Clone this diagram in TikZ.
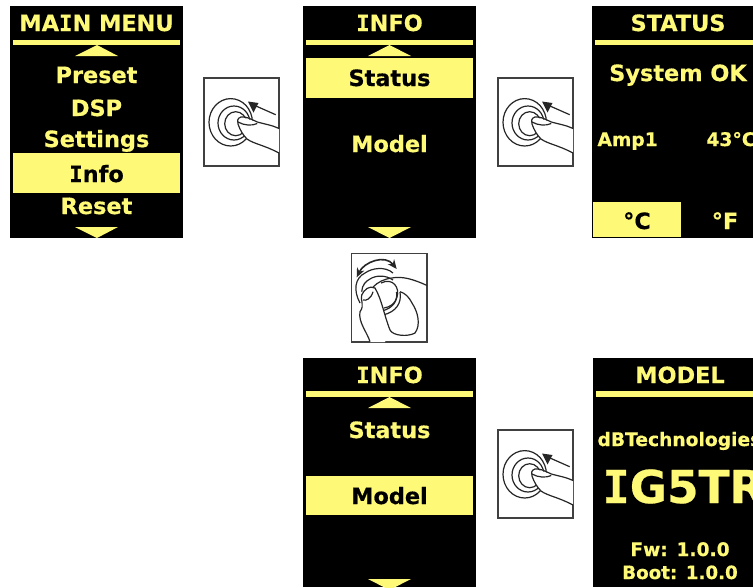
\documentclass[tikz,border=0pt]{standalone}
\usepackage{fontspec}
\usetikzlibrary{arrows.meta}
\setmainfont{DejaVu Sans}[BoldFeatures={FakeBold=0.5}]
\newfontfamily\monoface{DejaVu Sans Mono}[BoldFeatures={FakeBold=0.5}]
\newcommand{\capI}{{\monoface I}}
\definecolor{lcdyellow}{RGB}{255,249,120}
\tikzset{every picture/.style={line width=0.75pt}}
\tikzset{
  screen/.style={fill=black,draw=none},
  bar/.style={fill=lcdyellow,draw=none},
  picked/.style={fill=lcdyellow,draw=none},
  lcdtext/.style={text=lcdyellow,inner sep=0pt,anchor=base,font=\bfseries\fontsize{16.8}{18}\selectfont},
  lcdsmall/.style={lcdtext,font=\bfseries\fontsize{14}{16}\selectfont},
  lcdpicked/.style={lcdtext,text=black},
  iconbox/.style={draw=black!75,fill=white,line width=0.9pt},
  iconline/.style={draw=black!85,line width=0.9pt},
  pressicon/.pic={
    \draw [iconbox] (0,0) -- (75,0) -- (75,88) -- (0,88) -- cycle ;
    \draw [iconline] (26.7,44.3) ellipse (21.7 and 23.7) ;
    \draw [iconline] (30,45) ellipse (16 and 17) ;
    \draw [iconline] (31.7,45.7) ellipse (11 and 12) ;
    %finger
    \fill [white] (75,50.5) -- (53.3,44) -- (37,39) .. controls (33,40) and (33,44) .. (34,46) .. controls (36,52) and (39,57) .. (43,61) .. controls (50,66) and (60,67) .. (75,75) -- cycle ;
    \draw [iconline] (75,50.5) .. controls (68,47) and (60,46) .. (53.3,44) .. controls (47,41) and (41,38) .. (37,39) .. controls (33,40) and (33,44) .. (34,46) .. controls (36,52) and (39,57) .. (43,61) .. controls (50,66) and (60,67) .. (75,75) ;
    \draw [iconline] (34,44) .. controls (40,47.5) and (48,48) .. (53.3,45.5) ;
    %arrow
    \draw [iconline] (71.7,36.7) -- (52,28) ;
    \fill [black!85] (44,23.5) -- (54.5,25) -- (49.5,34.5) -- cycle ;
  },
}

\begin{document}
\begin{tikzpicture}[x=0.75pt,y=0.75pt,yscale=-1,xscale=1]
\clip (0,0) rectangle (753,587);

%Main menu screen
\draw [screen] (10,6) rectangle (183,238);
\draw [bar] (13,40) rectangle (180,45);
\draw [bar] (97,45) -- (118,56) -- (75,56) -- cycle ;
\draw [picked] (13,153) rectangle (180,193);
\draw [bar] (75,227) -- (118,227) -- (97,238) -- cycle ;
\node [lcdtext] (mainTitle) at (96.5,31) {MA\capI N MENU};
\node [lcdtext] (mainPreset) at (96.5,83) {Preset};
\node [lcdtext] (mainDsp) at (96.5,116) {DSP};
\node [lcdtext] (mainSettings) at (96.5,147) {Settings};
\node [lcdpicked] (mainInfo) at (96.5,182) {\capI nfo};
\node [lcdtext] (mainReset) at (96.5,214) {Reset};

%Info screen, Status picked
\draw [screen] (303,6) rectangle (476,238);
\draw [bar] (306,40) rectangle (473,45);
\draw [bar] (389.5,45) -- (411,56) -- (368,56) -- cycle ;
\draw [picked] (306,58) rectangle (473,98);
\draw [bar] (368,227) -- (411,227) -- (389.5,238) -- cycle ;
\node [lcdtext] (infoTitle) at (389.5,31) {\capI NFO};
\node [lcdpicked] (infoStatus) at (389.5,86) {Status};
\node [lcdtext] (infoModel) at (389.5,152) {Model};

%Status screen
\draw [screen] (592,6) rectangle (753,238);
\draw [bar] (595,40) rectangle (753,45);
\draw [picked] (593,202) rectangle (681,237);
\node [lcdtext] (statusTitle) at (678,31) {STATUS};
\node [lcdtext] (statusOk) at (678,81) {System OK};
\node [lcdsmall,anchor=base west] (statusAmp) at (597,146) {Amp1};
\node [lcdsmall,anchor=base west] (statusTemp) at (706,146) {43°C};
\node [lcdpicked] (statusCel) at (637,229) {°C};
\node [lcdtext] (statusFah) at (725,229) {°F};

%Info screen, Model picked
\draw [screen] (303,358) rectangle (476,587);
\draw [bar] (306,391) rectangle (473,397);
\draw [bar] (389.5,397) -- (411,408) -- (368,408) -- cycle ;
\draw [picked] (306,476) rectangle (473,515);
\draw [bar] (368,579) -- (411,579) -- (389.5,590) -- cycle ;
\node [lcdtext] (infoTitleB) at (389.5,383) {\capI NFO};
\node [lcdtext] (infoStatusB) at (389.5,438) {Status};
\node [lcdpicked] (infoModelB) at (389.5,504) {Model};

%Model screen
\draw [screen] (593,358) rectangle (753,587);
\draw [bar] (596,391) rectangle (753,397);
\node [lcdtext] (modelTitle) at (680,383) {MODEL};
\node [lcdsmall,anchor=base west] (modelMaker) at (597,446) {dBTechnologies};
\node [lcdtext,anchor=base west,font=\bfseries\fontsize{34}{36}\selectfont] (modelName) at (602,503) {\capI G5TR};
\node [lcdsmall] (modelFw) at (680,556) {Fw: 1.0.0};
\node [lcdsmall,font=\bfseries\fontsize{13.7}{16}\selectfont] (modelBoot) at (680,579) {Boot: 1.0.0};

%Press icons
\pic [yscale=-1] at (204,78) {pressicon};
\pic [yscale=-1] at (498,78) {pressicon};
\pic [yscale=-1] at (498,430) {pressicon};

%Turn icon
\draw [iconbox] (351.5,253.5) -- (427,253.5) -- (427,342) -- (351.5,342) -- cycle ;
%rings of the knob
\draw [iconline] (360,303) .. controls (353,290) and (355,278) .. (365,273) .. controls (372,268) and (385,266) .. (393,273) ;
\draw [iconline] (361.7,291.7) .. controls (362,285) and (366,281) .. (370,279) .. controls (376,275) and (386,275) .. (393,280) ;
\draw [iconline] (381,283) .. controls (393,277) and (400,288) .. (397,297) .. controls (395,304) and (390,307) .. (384,308) ;
\draw [iconline] (400,292) .. controls (402,303) and (396,312) .. (383,315) ;
\draw [iconline] (396.5,292) .. controls (398,301) and (393,308) .. (382,311) ;
%double arrow
\draw [iconline,line width=1.2pt,{Stealth[length=7pt,width=6pt]}-{Stealth[length=7pt,width=6pt]}] (356.7,277.3) .. controls (364,262) and (385,254) .. (396.7,269) ;
%hand
\draw [iconline] (391.7,278) .. controls (402,276) and (413,279) .. (427,285.5) ;
\draw [iconline] (373,287) .. controls (378,282) and (384,279) .. (391.7,278) ;
\fill [white] (361.7,295) .. controls (364,290) and (369,285) .. (375,288) .. controls (382,300) and (385,318) .. (390,330) -- (385,342) -- (370,342) -- (360,320) -- cycle ;
\draw [iconline] (370,341.7) .. controls (367,332) and (358,322) .. (360,311.7) .. controls (365,305) and (360,300) .. (361.7,295) .. controls (364,290) and (369,285) .. (375,288) .. controls (382,300) and (384,315) .. (390,330) .. controls (393,336) and (408,337) .. (415,333) .. controls (421,325) and (418,312) .. (412,303) .. controls (409,297) and (405,293) .. (400,291.7) ;
\draw [iconline] (363,300) .. controls (366,301) and (371,299) .. (373,291.7) ;
\end{tikzpicture}
\end{document}
